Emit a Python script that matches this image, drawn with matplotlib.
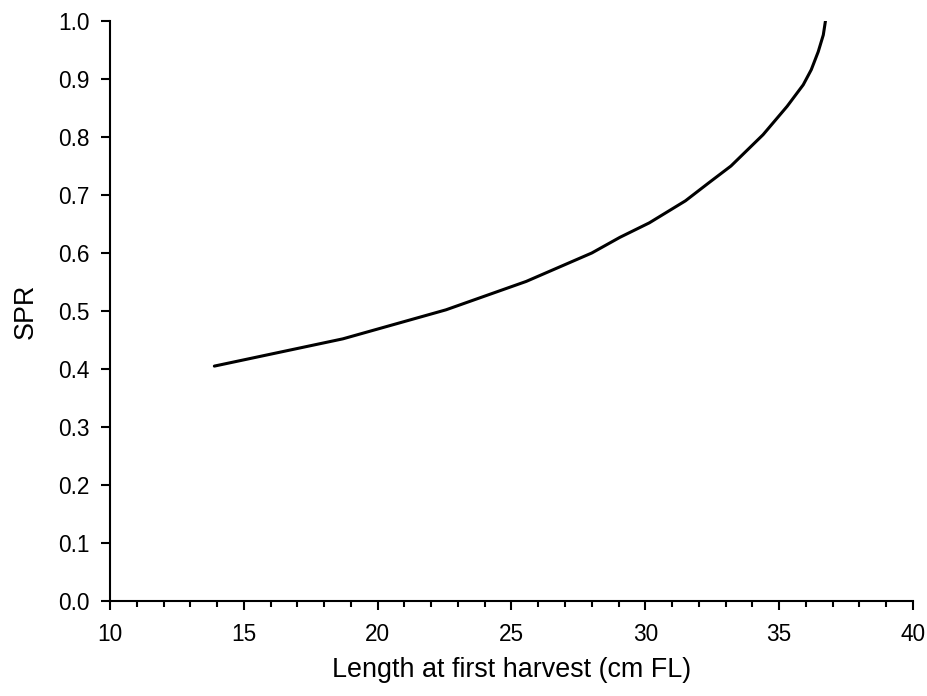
import matplotlib
matplotlib.use("Agg")
import matplotlib.pyplot as plt
from matplotlib.ticker import MultipleLocator, FormatStrFormatter

plt.rcParams['font.family'] = ['Liberation Sans', 'DejaVu Sans']

# Spawning potential ratio versus length at first harvest
length_cm = [13.9, 18.7, 22.55, 25.55, 28.0, 29.05, 30.15, 31.5, 32.4, 33.2,
             34.4, 35.3, 35.9, 36.2, 36.46, 36.65, 36.73]
spr = [0.405, 0.452, 0.502, 0.551, 0.600, 0.627, 0.652, 0.690, 0.722, 0.750,
       0.804, 0.853, 0.890, 0.916, 0.947, 0.976, 1.000]

fig = plt.figure(figsize=(9.28, 6.96), dpi=100)
ax = fig.add_axes([0.1185, 0.1365, 0.8653, 0.8333])

ax.plot(length_cm, spr, color='black', lw=2.2, solid_capstyle='round',
        solid_joinstyle='round')

ax.set_xlim(10, 40)
ax.set_ylim(0, 1.0)
ax.xaxis.set_major_locator(MultipleLocator(5))
ax.xaxis.set_minor_locator(MultipleLocator(1))
ax.yaxis.set_major_locator(MultipleLocator(0.1))
ax.yaxis.set_major_formatter(FormatStrFormatter('%.1f'))

for side in ('top', 'right'):
    ax.spines[side].set_visible(False)
for side in ('left', 'bottom'):
    ax.spines[side].set_linewidth(1.5)

ax.tick_params(axis='both', which='major', direction='out', length=6.5, width=1.5,
               labelsize=16.3)
ax.tick_params(axis='y', which='major', pad=8)
ax.tick_params(axis='x', which='major', pad=9)
ax.tick_params(axis='x', which='minor', direction='out', length=4, width=1.5)

ax.set_xlabel('Length at first harvest (cm FL)', fontsize=19.4, labelpad=8)
ax.set_ylabel('SPR', fontsize=19.4, labelpad=14)

fig.savefig('out.png', dpi=100)
